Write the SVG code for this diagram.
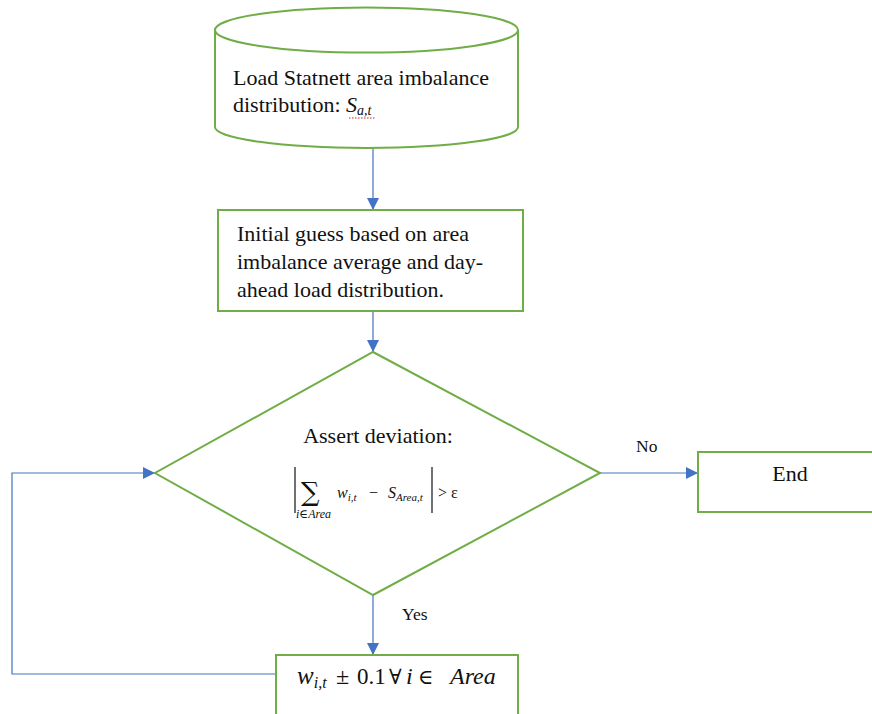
<svg xmlns="http://www.w3.org/2000/svg" width="872" height="714" viewBox="0 0 872 714">
  <defs>
    <marker id="arrow" viewBox="0 0 10 10" refX="10" refY="5" markerWidth="12" markerHeight="12" markerUnits="userSpaceOnUse" orient="auto">
      <path d="M0,0 L10,5 L0,10 Z" fill="#4472C4"/>
    </marker>
    <style>
      .shape { fill: #ffffff; stroke: #70AD47; stroke-width: 2; }
      .conn { fill: none; stroke: #4472C4; stroke-width: 1.2; }
      .txt { font-family: "Liberation Serif", "Times New Roman", serif; font-size: 22px; fill: #111111; }
      .lbl { font-family: "Liberation Serif", "Times New Roman", serif; font-size: 17.5px; fill: #111111; }
      .math { font-family: "Liberation Serif", "DejaVu Serif", serif; font-style: italic; fill: #111111; }
      .up { font-family: "Liberation Serif", "DejaVu Serif", serif; fill: #111111; }
    </style>
  </defs>
  <rect width="872" height="714" fill="#ffffff"/>

  <!-- connectors -->
  <g id="connectors">
    <line class="conn" x1="373" y1="148" x2="373" y2="210" marker-end="url(#arrow)"/>
    <line class="conn" x1="373" y1="311" x2="373" y2="352" marker-end="url(#arrow)"/>
    <line class="conn" x1="600" y1="473" x2="698" y2="473" marker-end="url(#arrow)"/>
    <line class="conn" x1="373" y1="595" x2="373" y2="655" marker-end="url(#arrow)"/>
    <polyline class="conn" points="276,674 12,674 12,473 155,473" marker-end="url(#arrow)"/>
    <text class="lbl" x="636" y="452">No</text>
    <text class="lbl" x="402" y="620">Yes</text>
  </g>

  <!-- data source -->
  <g id="load-data">
    <path class="shape" d="M215,30 L215,127 A151.5,21 0 0 0 518,127 L518,30"/>
    <ellipse class="shape" cx="366.5" cy="30" rx="151.5" ry="22.5"/>
    <text class="txt" x="233" y="85">Load Statnett area imbalance</text>
    <text class="txt" x="233" y="112">distribution: <tspan font-style="italic">S</tspan><tspan font-style="italic" font-size="14" dy="3">a,t</tspan></text>
    <line x1="349" y1="118" x2="375" y2="118" stroke="#d02020" stroke-width="1" stroke-dasharray="1.5,1.5"/>
  </g>

  <!-- initial guess -->
  <g id="initial-guess">
    <rect class="shape" x="218" y="210" width="305" height="101"/>
    <text class="txt" x="237" y="241">Initial guess based on area</text>
    <text class="txt" x="237" y="269">imbalance average and day-</text>
    <text class="txt" x="237" y="297">ahead load distribution.</text>
  </g>

  <!-- decision -->
  <g id="assert-deviation">
    <polygon class="shape" points="373,352 600,473 373,595 155,473"/>
    <text class="txt" x="378" y="443" text-anchor="middle" font-size="21.5">Assert deviation:</text>
    <line x1="295" y1="467" x2="295" y2="513" stroke="#111" stroke-width="1.2"/>
    <text x="301" y="501" font-family="DejaVu Serif, serif" font-size="26" fill="#111">∑</text>
    <text class="math" x="296" y="518" font-size="12">i∈Area</text>
    <text class="math" x="337" y="498" font-size="16">w<tspan font-size="11" dy="3">i,t</tspan></text>
    <text class="up" x="369" y="498" font-size="16">−</text>
    <text class="math" x="388" y="498" font-size="16">S<tspan font-size="11" dy="3">Area,t</tspan></text>
    <line x1="432" y1="467" x2="432" y2="513" stroke="#111" stroke-width="1.2"/>
    <text class="up" x="438" y="498" font-size="16">&gt; ε</text>
  </g>

  <!-- end -->
  <g id="end">
    <rect class="shape" x="698" y="452" width="180" height="60"/>
    <text class="txt" x="790" y="481" text-anchor="middle">End</text>
  </g>

  <!-- update step -->
  <g id="update-weights">
    <rect class="shape" x="276" y="655" width="242" height="70"/>
    <text class="math" x="297" y="684" font-size="25">w<tspan font-size="16" dy="4">i,t</tspan></text>
    <text class="up" x="336" y="684" font-size="24">±</text>
    <text class="up" x="357" y="684" font-size="23">0.1</text>
    <text class="up" x="389" y="684" font-size="21">∀</text>
    <text class="math" x="406" y="684" font-size="24">i</text>
    <text class="up" x="418" y="684" font-size="21">∈</text>
    <text class="math" x="450" y="684" font-size="24">Area</text>
  </g>
</svg>
